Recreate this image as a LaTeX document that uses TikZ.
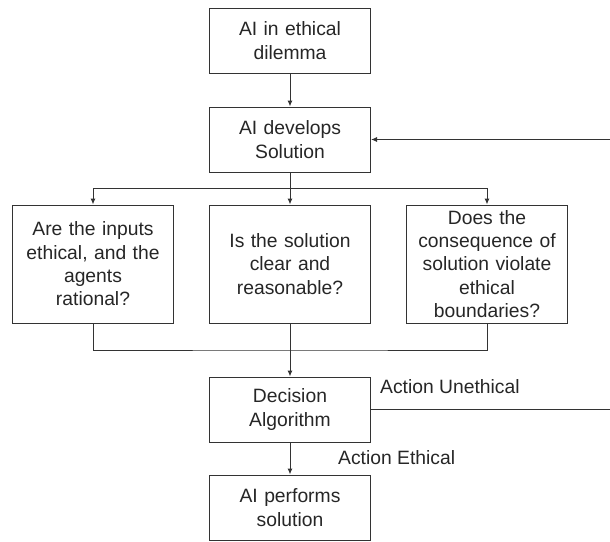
\documentclass[tikz,border=0pt]{standalone}
\usepackage{fontspec}
\setmainfont{Liberation Sans}
\usepackage{tikz}
\usetikzlibrary{arrows.meta}
\usetikzlibrary{calc}
\usetikzlibrary{positioning}

\begin{document}
\begin{tikzpicture}[
        x=1pt, y=-1pt,
        box/.style={draw=black!80, line width=1pt, minimum width=161pt, text width=158pt,
            align=center, inner sep=0pt, text=black!85, font=\fontsize{19.3}{23.3}\selectfont},
        shortbox/.style={box, minimum height=65pt},
        tallbox/.style={box, minimum height=118pt},
        link/.style={draw=black!80, line width=1pt},
        arrow/.style={link, -{Latex[length=6pt,width=5pt]}},
        tag/.style={text=black!85, font=\fontsize{19.3}{23.3}\selectfont, inner sep=0pt}
    ]
        \useasboundingbox (0,0) rectangle (610,541);

        % Main column
        \node[shortbox] (dilemma) at (290,40.5) {AI in ethical\\dilemma};
        \node[shortbox] (develop) at (290,139.5) {AI develops\\Solution};

        % Three checks
        \node[tallbox] (inputs) at (93,264) {Are the inputs\\ethical, and the\\agents\\rational?};
        \node[tallbox] (clear) at (290,264) {Is the solution\\clear and\\reasonable?};
        \node[tallbox] (bounds) at (487,264) {Does the\\consequence of\\solution violate\\ethical\\boundaries?};

        \node[shortbox] (decision) at (290,409.5) {Decision\\Algorithm};
        \node[shortbox] (perform) at (290,507.5) {AI performs\\solution};

        % Split and join points (the loop back runs just past the right edge)
        \coordinate (split) at (290,188);
        \coordinate (join) at (290,350);
        \coordinate (back) at (616,0);

        \draw[arrow] (dilemma) -- (develop);
        \draw[link] (develop) -- (split);
        \draw[link] (inputs.north |- split) -- (bounds.north |- split);
        \foreach \check in {inputs, clear, bounds} {
            \draw[arrow] (\check.north |- split) -- (\check.north);
        }

        \draw[link] (inputs.south) |- (join) -| (bounds.south);
        \draw[link] (clear.south) -- (join);
        \draw[arrow] (join) -- (decision);

        % Outcomes
        \draw[arrow] (decision.east) -- (decision.east -| back) |- (develop.east);
        \draw[arrow] (decision) -- (perform);
        \node[tag, anchor=base west] (unethical) at (380,393) {Action Unethical};
        \node[tag, anchor=base west] (ethical) at (338,464) {Action Ethical};
    \end{tikzpicture}
\end{document}
